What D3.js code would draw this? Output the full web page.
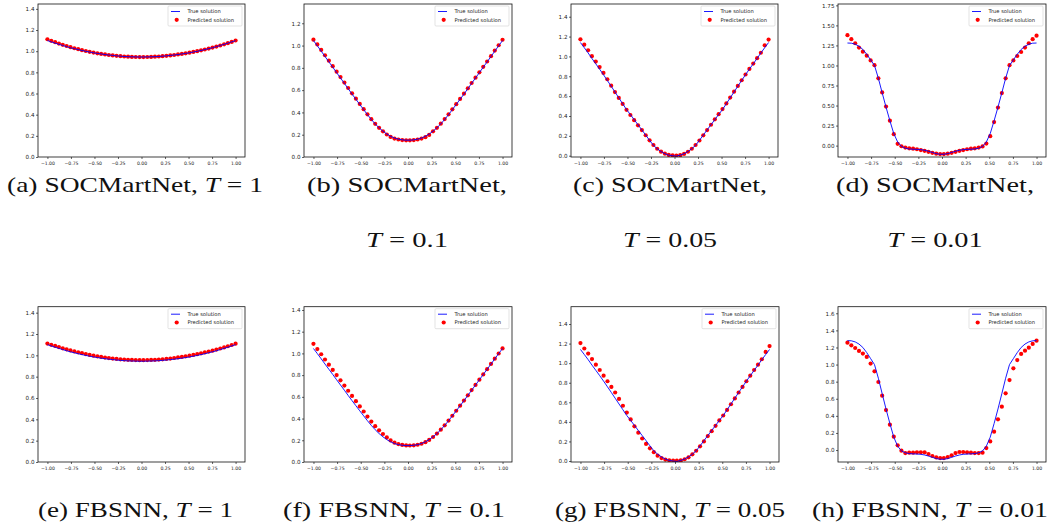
<!DOCTYPE html>
<html><head><meta charset="utf-8">
<script src="https://cdn.jsdelivr.net/npm/d3@7"></script>
<style>body{margin:0;background:#fff} svg{display:block}</style>
</head><body><svg id="c" width="1057" height="532"></svg>
<script>
// ---------------- data ----------------
const xs = [-1.000,-0.959,-0.918,-0.878,-0.837,-0.796,-0.755,-0.714,-0.673,-0.633,-0.592,-0.551,-0.510,-0.469,-0.429,-0.388,-0.347,-0.306,-0.265,-0.224,-0.184,-0.143,-0.102,-0.061,-0.020,
            0.020,0.061,0.102,0.143,0.184,0.224,0.265,0.306,0.347,0.388,0.429,0.469,0.510,0.551,0.592,0.633,0.673,0.714,0.755,0.796,0.837,0.878,0.918,0.959,1.000];

const trueT1 = [1.100,1.088,1.076,1.065,1.054,1.043,1.033,1.024,1.015,1.007,0.999,0.992,0.985,0.979,0.974,0.968,0.964,0.960,0.956,0.953,0.950,0.948,0.947,0.946,0.945,
                0.945,0.946,0.947,0.948,0.950,0.953,0.956,0.960,0.964,0.968,0.974,0.979,0.985,0.992,0.999,1.007,1.015,1.024,1.033,1.043,1.054,1.065,1.076,1.088,1.100];
const trueT01 = [1.045,0.998,0.950,0.902,0.854,0.806,0.757,0.709,0.661,0.613,0.565,0.518,0.471,0.425,0.380,0.337,0.297,0.262,0.232,0.206,0.186,0.170,0.160,0.154,0.151,
                 0.151,0.154,0.160,0.170,0.186,0.206,0.232,0.262,0.297,0.337,0.380,0.425,0.471,0.518,0.565,0.613,0.661,0.709,0.757,0.806,0.854,0.902,0.950,0.998,1.045];
const trueT005 = [1.140,1.088,1.035,0.980,0.926,0.872,0.816,0.758,0.700,0.642,0.583,0.524,0.465,0.415,0.364,0.312,0.260,0.208,0.155,0.105,0.070,0.042,0.020,0.006,0.000,
                  -0.004,0.006,0.020,0.042,0.070,0.105,0.155,0.208,0.260,0.312,0.364,0.415,0.465,0.524,0.583,0.642,0.700,0.758,0.816,0.872,0.926,0.980,1.035,1.088,1.140];
const trueT001 = [1.280,1.278,1.265,1.240,1.200,1.140,1.070,1.000,0.840,0.660,0.480,0.310,0.150,0.045,-0.010,-0.032,-0.042,-0.045,-0.047,-0.050,-0.058,-0.070,-0.085,-0.100,-0.108,
                  -0.108,-0.100,-0.085,-0.070,-0.058,-0.050,-0.047,-0.045,-0.042,-0.032,-0.010,0.045,0.150,0.310,0.480,0.660,0.840,1.000,1.070,1.140,1.200,1.240,1.265,1.278,1.280];

const predA = [1.113,1.098,1.085,1.072,1.060,1.049,1.038,1.028,1.019,1.010,1.002,0.994,0.987,0.980,0.974,0.969,0.964,0.960,0.956,0.953,0.950,0.948,0.946,0.945,0.944,
               0.944,0.945,0.946,0.948,0.950,0.953,0.956,0.960,0.964,0.969,0.974,0.980,0.986,0.993,1.000,1.008,1.016,1.025,1.034,1.044,1.054,1.065,1.076,1.088,1.101];
const predB = [1.053,1.010,0.961,0.913,0.864,0.815,0.766,0.717,0.668,0.619,0.571,0.523,0.476,0.429,0.383,0.339,0.298,0.262,0.230,0.202,0.180,0.165,0.157,0.152,0.150,
               0.150,0.152,0.157,0.165,0.178,0.198,0.230,0.262,0.299,0.340,0.383,0.428,0.474,0.521,0.568,0.616,0.664,0.712,0.760,0.809,0.857,0.905,0.955,1.003,1.052];
const predC = [1.172,1.118,1.062,1.002,0.948,0.893,0.834,0.770,0.705,0.641,0.582,0.522,0.462,0.410,0.358,0.306,0.258,0.206,0.155,0.108,0.070,0.041,0.020,0.008,0.003,
               0.002,0.005,0.018,0.040,0.070,0.108,0.153,0.205,0.258,0.312,0.366,0.418,0.470,0.527,0.586,0.645,0.703,0.760,0.818,0.874,0.928,0.982,1.037,1.112,1.170];
const predD = [1.378,1.328,1.277,1.223,1.172,1.122,1.063,1.004,0.840,0.664,0.487,0.311,0.143,0.022,-0.008,-0.025,-0.034,-0.038,-0.045,-0.055,-0.065,-0.078,-0.090,-0.100,-0.106,
               -0.106,-0.100,-0.090,-0.078,-0.065,-0.055,-0.045,-0.038,-0.034,-0.025,-0.010,0.025,0.118,0.294,0.475,0.655,0.840,1.004,1.063,1.118,1.168,1.223,1.277,1.328,1.372];
const predE = [1.110,1.099,1.088,1.077,1.066,1.056,1.046,1.037,1.028,1.020,1.012,1.004,0.997,0.991,0.985,0.979,0.974,0.970,0.966,0.963,0.960,0.958,0.957,0.956,0.955,
               0.955,0.956,0.957,0.958,0.960,0.963,0.966,0.970,0.975,0.980,0.985,0.991,0.997,1.004,1.011,1.019,1.027,1.035,1.044,1.054,1.064,1.074,1.085,1.097,1.109];
const predF = [1.088,1.040,0.992,0.944,0.896,0.848,0.800,0.752,0.704,0.656,0.608,0.560,0.512,0.465,0.418,0.372,0.330,0.292,0.258,0.226,0.199,0.178,0.165,0.157,0.153,
               0.152,0.154,0.159,0.168,0.183,0.203,0.230,0.262,0.298,0.338,0.381,0.426,0.472,0.519,0.566,0.614,0.662,0.710,0.758,0.806,0.855,0.903,0.951,0.999,1.046];
const predG = [1.205,1.150,1.098,1.042,0.985,0.930,0.872,0.815,0.757,0.700,0.635,0.565,0.495,0.425,0.355,0.290,0.230,0.175,0.130,0.090,0.055,0.030,0.015,0.008,0.005,
               0.004,0.006,0.018,0.038,0.068,0.105,0.150,0.200,0.255,0.305,0.360,0.415,0.465,0.522,0.580,0.640,0.700,0.757,0.815,0.872,0.930,0.985,1.040,1.115,1.175];
const predH = [1.256,1.225,1.194,1.159,1.128,1.089,1.011,0.921,0.796,0.636,0.468,0.297,0.156,0.055,-0.008,-0.035,-0.031,-0.031,-0.027,-0.027,-0.027,-0.047,-0.070,-0.086,-0.094,
               -0.094,-0.082,-0.062,-0.035,-0.023,-0.023,-0.027,-0.031,-0.035,-0.035,-0.031,0.023,0.101,0.215,0.359,0.507,0.663,0.819,0.956,1.053,1.124,1.163,1.198,1.241,1.280];

const xTicks = [-1,-0.75,-0.5,-0.25,0,0.25,0.5,0.75,1];
const xTickLabels = ["\u22121.00","\u22120.75","\u22120.50","\u22120.25","0.00","0.25","0.50","0.75","1.00"];
const yTicks02_14 = [0,0.2,0.4,0.6,0.8,1.0,1.2,1.4];
const yLabels02_14 = ["0.0","0.2","0.4","0.6","0.8","1.0","1.2","1.4"];
const yTicks02_12 = [0,0.2,0.4,0.6,0.8,1.0,1.2];
const yLabels02_12 = ["0.0","0.2","0.4","0.6","0.8","1.0","1.2"];
const yTicks025 = [0,0.25,0.5,0.75,1.0,1.25,1.5,1.75];
const yLabels025 = ["0.00","0.25","0.50","0.75","1.00","1.25","1.50","1.75"];
const yTicks02_16 = [0,0.2,0.4,0.6,0.8,1.0,1.2,1.4,1.6];
const yLabels02_16 = ["0.0","0.2","0.4","0.6","0.8","1.0","1.2","1.4","1.6"];
const yLimits = [[0,1.446],[0,1.373],[-0.013,1.528],[-0.142,1.767],[0,1.456],[0,1.43],[-0.01,1.577],[-0.14,1.677]];

const legendLabels = ["True solution","Predicted solution"];
const captionLines = [
  [[["(a) SOCMartNet, ",false],["T",true],[" = 1",false]]],
  [[["(b) SOCMartNet,",false]],[["T",true],[" = 0.1",false]]],
  [[["(c) SOCMartNet,",false]],[["T",true],[" = 0.05",false]]],
  [[["(d) SOCMartNet,",false]],[["T",true],[" = 0.01",false]]],
  [[["(e) FBSNN, ",false],["T",true],[" = 1",false]]],
  [[["(f) FBSNN, ",false],["T",true],[" = 0.1",false]]],
  [[["(g) FBSNN, ",false],["T",true],[" = 0.05",false]]],
  [[["(h) FBSNN, ",false],["T",true],[" = 0.01",false]]]
];

const panels = [
  {t:trueT1, p:predA, yt:yTicks02_14, yl:yLabels02_14},
  {t:trueT01, p:predB, yt:yTicks02_12, yl:yLabels02_12},
  {t:trueT005, p:predC, yt:yTicks02_14, yl:yLabels02_14},
  {t:trueT001, p:predD, yt:yTicks025, yl:yLabels025},
  {t:trueT1, p:predE, yt:yTicks02_14, yl:yLabels02_14},
  {t:trueT01, p:predF, yt:yTicks02_14, yl:yLabels02_14},
  {t:trueT005, p:predG, yt:yTicks02_14, yl:yLabels02_14},
  {t:trueT001, p:predH, yt:yTicks02_16, yl:yLabels02_16}
];

// ---------------- layout ----------------
const boxes = [
  {x0:38,x1:245,y0:4,y1:157},{x0:304,x1:512,y0:4,y1:157},{x0:571,x1:778,y0:4,y1:157},{x0:838,x1:1046,y0:4,y1:157},
  {x0:38,x1:245,y0:306.7,y1:462},{x0:304,x1:512,y0:306.7,y1:462},{x0:571,x1:779,y0:306.7,y1:462},{x0:838,x1:1046,y0:306.7,y1:462}
];
const capLayout = [
  {cx:135,base:[192],w:256},{cx:407,base:[192,247],w:200},{cx:670,base:[192,247],w:194},{cx:935,base:[192,247],w:198},
  {cx:135.5,base:[517],w:195},{cx:394,base:[517],w:222},{cx:670,base:[517],w:230},{cx:930,base:[517],w:236}
];

const svg = d3.select("#c");
svg.append("rect").attr("width",1057).attr("height",532).attr("fill","#fff");

panels.forEach((P,k)=>{
  const b = boxes[k];
  const x = d3.scaleLinear().domain([-1.1,1.1]).range([b.x0,b.x1]);
  const y = d3.scaleLinear().domain(yLimits[k]).range([b.y1,b.y0]);
  const g = svg.append("g");
  const cid = "clip"+k;
  svg.append("clipPath").attr("id",cid).append("rect")
     .attr("x",b.x0).attr("y",b.y0).attr("width",b.x1-b.x0).attr("height",b.y1-b.y0);
  const pg = g.append("g").attr("clip-path",`url(#${cid})`);
  pg.selectAll("circle").data(P.p).join("circle")
    .attr("cx",(d,i)=>x(xs[i])).attr("cy",d=>y(d)).attr("r",2.1).attr("fill","#ff0000");
  pg.append("path").datum(P.t)
    .attr("d",d3.line().x((d,i)=>x(xs[i])).y(d=>y(d)))
    .attr("fill","none").attr("stroke","#0000ff").attr("stroke-width",0.9);
  // axes
  const ax = g.append("g").attr("transform",`translate(0,${b.y1})`)
    .call(d3.axisBottom(x).tickValues(xTicks).tickFormat((d,i)=>xTickLabels[i]).tickSize(2).tickPadding(2.5));
  const ay = g.append("g").attr("transform",`translate(${b.x0},0)`)
    .call(d3.axisLeft(y).tickValues(P.yt).tickFormat((d,i)=>P.yl[i]).tickSize(2).tickPadding(1.5));
  [ax,ay].forEach(a=>{
    a.select(".domain").remove();
    a.selectAll("line").attr("stroke","#222").attr("stroke-width",0.7);
    a.selectAll("text").attr("fill","#222").attr("font-family","DejaVu Sans");
  });
  ax.selectAll("text").attr("font-size","4.6px");
  ay.selectAll("text").attr("font-size","5.6px");
  g.append("rect").attr("x",b.x0).attr("y",b.y0).attr("width",b.x1-b.x0).attr("height",b.y1-b.y0)
    .attr("fill","none").attr("stroke","#111").attr("stroke-width",0.8);
  // legend
  const lx = b.x1-77, ly = b.y0+2;
  const lg = g.append("g");
  lg.append("rect").attr("x",lx).attr("y",ly).attr("width",74).attr("height",20).attr("rx",1)
    .attr("fill","#fff").attr("fill-opacity",0.8).attr("stroke","#d0d0d0").attr("stroke-width",0.6);
  lg.append("line").attr("x1",lx+3).attr("x2",lx+12).attr("y1",ly+5.5).attr("y2",ly+5.5)
    .attr("stroke","#0000ff").attr("stroke-width",0.9);
  lg.append("circle").attr("cx",lx+8.7).attr("cy",ly+13.8).attr("r",2.1).attr("fill","#ff0000");
  lg.selectAll("text").data(legendLabels).join("text")
    .attr("x",lx+19.5).attr("y",(d,i)=>ly+5.5+i*8.3).attr("dy","0.35em")
    .attr("font-family","DejaVu Sans").attr("font-size","5.2px").attr("fill","#222").text(d=>d);
});

// captions
captionLines.forEach((lines,k)=>{
  const L = capLayout[k];
  let factor = 1;
  lines.forEach((segs,j)=>{
    const t = svg.append("text").attr("x",L.cx).attr("y",L.base[j]).attr("text-anchor","middle")
      .attr("font-family","Liberation Serif").attr("font-size","21px").attr("fill","#111");
    segs.forEach(s=>{ t.append("tspan").attr("font-style",s[1]?"italic":"normal").text(s[0]); });
    const w = t.node().getComputedTextLength();
    if(j===0){ factor = L.w / w; }
    t.attr("textLength", w*factor).attr("lengthAdjust","spacingAndGlyphs");
  });
});
</script></body></html>
